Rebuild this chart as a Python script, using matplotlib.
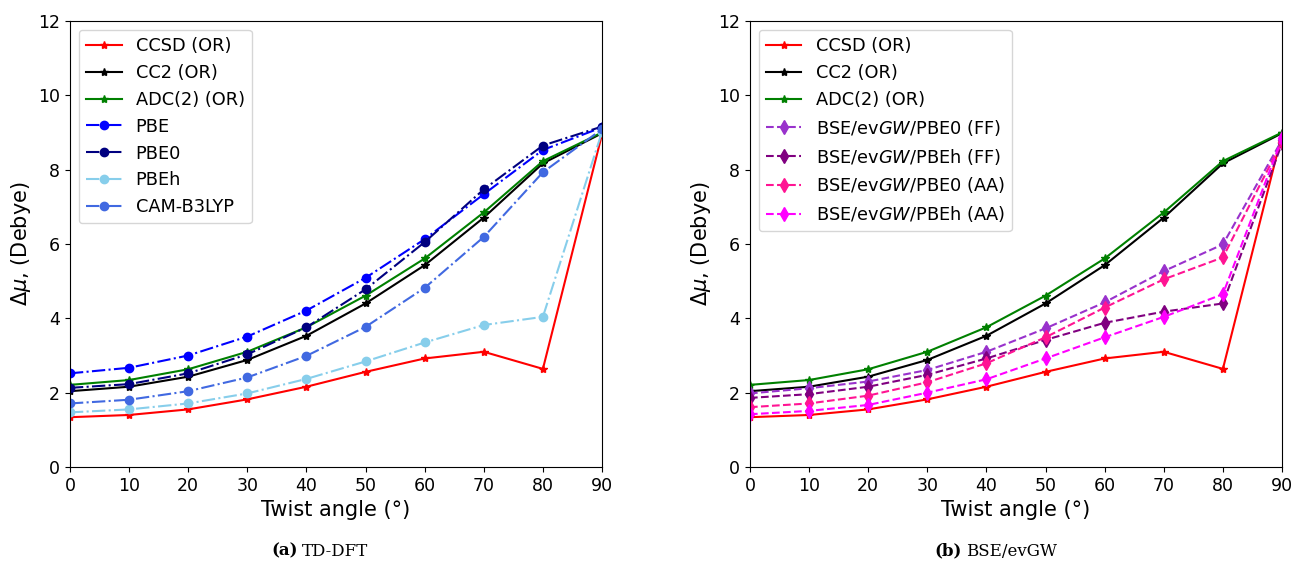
import matplotlib
matplotlib.use("Agg")
import matplotlib.pyplot as plt
import numpy as np

angles = [0, 10, 20, 30, 40, 50, 60, 70, 80, 90]

ccsd = [1.34, 1.40, 1.55, 1.82, 2.16, 2.56, 2.92, 3.10, 2.64, 8.95]
cc2 = [2.04, 2.16, 2.43, 2.88, 3.53, 4.40, 5.43, 6.71, 8.17, 8.98]
adc2 = [2.21, 2.34, 2.63, 3.10, 3.76, 4.61, 5.61, 6.85, 8.23, 9.00]

pbe = [2.52, 2.67, 3.00, 3.51, 4.21, 5.09, 6.13, 7.34, 8.53, 9.14]
pbe0 = [2.13, 2.23, 2.52, 3.03, 3.76, 4.78, 6.05, 7.47, 8.65, 9.16]
pbeh = [1.47, 1.55, 1.71, 1.98, 2.37, 2.84, 3.35, 3.82, 4.04, 9.02]
camb3lyp = [1.71, 1.81, 2.04, 2.41, 2.99, 3.77, 4.82, 6.19, 7.93, 9.09]

bse_pbe0_ff = [1.98, 2.12, 2.30, 2.61, 3.10, 3.73, 4.43, 5.27, 5.99, 8.80]
bse_pbeh_ff = [1.86, 1.96, 2.16, 2.48, 2.92, 3.42, 3.88, 4.18, 4.40, 8.71]
bse_pbe0_aa = [1.61, 1.71, 1.92, 2.28, 2.79, 3.49, 4.29, 5.05, 5.64, 8.75]
bse_pbeh_aa = [1.42, 1.51, 1.67, 2.00, 2.36, 2.92, 3.49, 4.04, 4.65, 8.84]

fig = plt.figure(figsize=(12.93, 5.63), dpi=100)
ax1 = fig.add_axes([0.0541, 0.1705, 0.4115, 0.7922])
ax2 = fig.add_axes([0.5800, 0.1705, 0.4115, 0.7922])

def ref_lines(ax):
    ax.plot(angles, ccsd, '-', color='red', marker='*', ms=6, label='CCSD (OR)')
    ax.plot(angles, cc2, '-', color='black', marker='*', ms=6, label='CC2 (OR)')
    ax.plot(angles, adc2, '-', color='green', marker='*', ms=6, label='ADC(2) (OR)')

ref_lines(ax1)
ax1.plot(angles, pbe, '-.', color='blue', marker='o', ms=6, label='PBE')
ax1.plot(angles, pbe0, '-.', color='navy', marker='o', ms=6, label='PBE0')
ax1.plot(angles, pbeh, '-.', color='skyblue', marker='o', ms=6, label='PBEh')
ax1.plot(angles, camb3lyp, '-.', color='royalblue', marker='o', ms=6, label='CAM-B3LYP')

ref_lines(ax2)
ax2.plot(angles, bse_pbe0_ff, '--', color='darkorchid', marker='d', ms=7, label='BSE/ev$GW$/PBE0 (FF)')
ax2.plot(angles, bse_pbeh_ff, '--', color='purple', marker='d', ms=7, label='BSE/ev$GW$/PBEh (FF)')
ax2.plot(angles, bse_pbe0_aa, '--', color='deeppink', marker='d', ms=7, label='BSE/ev$GW$/PBE0 (AA)')
ax2.plot(angles, bse_pbeh_aa, '--', color='magenta', marker='d', ms=7, label='BSE/ev$GW$/PBEh (AA)')

for ax in (ax1, ax2):
    ax.set_xlim(0, 90)
    ax.set_ylim(0, 12)
    ax.set_xticks(range(0, 91, 10))
    ax.set_yticks(range(0, 13, 2))
    ax.tick_params(labelsize=12.5)
    ax.set_xlabel('Twist angle (°)', fontsize=15)
    ax.set_ylabel(r'$\Delta\mu$, (Debye)', fontsize=15)
    ax.legend(loc='upper left', fontsize=12.8, handlelength=2)

# sub-captions, bold tag + plain serif text
fig.text(0.2300, 0.013, '(a)', family='DejaVu Serif', fontweight='bold', fontsize=12, ha='right', va='baseline')
fig.text(0.2335, 0.013, 'TD-DFT', family='DejaVu Serif', fontsize=12, ha='left', va='baseline')
fig.text(0.7440, 0.013, '(b)', family='DejaVu Serif', fontweight='bold', fontsize=12, ha='right', va='baseline')
fig.text(0.7475, 0.013, 'BSE/evGW', family='DejaVu Serif', fontsize=12, ha='left', va='baseline')

fig.savefig('out.png', dpi=100)
